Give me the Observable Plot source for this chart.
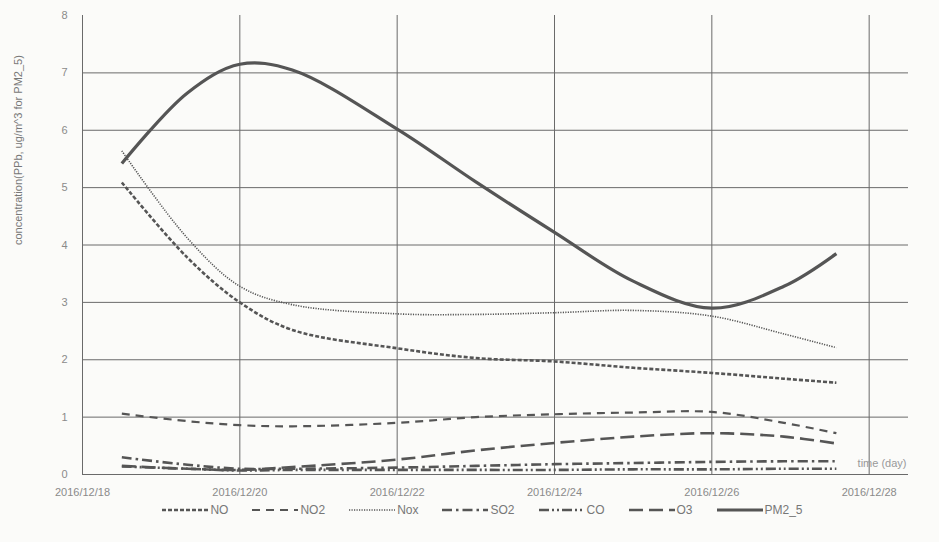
<!DOCTYPE html>
<html>
<head>
<meta charset="utf-8">
<script src="https://cdn.jsdelivr.net/npm/d3@7"></script>
<script src="https://cdn.jsdelivr.net/npm/@observablehq/plot@0.6"></script>
<style>
  html, body { margin: 0; padding: 0; background: #fbfbf9; }
  #chart { width: 939px; }
  #legend { display: flex; justify-content: center; align-items: center; gap: 24px; margin-top: 3px; padding-left: 26px;
    font: 12px "Liberation Sans Narrow", "Liberation Sans", sans-serif; color: #777; }
  #legend .item { display: flex; align-items: center; gap: 2px; }
</style>
</head>
<body>
<div id="chart"></div>
<div id="legend"></div>
<script>
// ---- data ----
const times = ["2016-12-18T12:00","2016-12-19T08:00","2016-12-20T00:00","2016-12-20T16:00","2016-12-22T00:00","2016-12-23T00:00","2016-12-24T00:00","2016-12-25T00:00","2016-12-26T00:00","2016-12-26T22:00","2016-12-27T14:00"];
const NO    = [5.09, 3.78, 3.00, 2.52, 2.20, 2.03, 1.97, 1.86, 1.77, 1.67, 1.60];
const NO2   = [1.06, 0.93, 0.86, 0.84, 0.90, 1.00, 1.05, 1.08, 1.09, 0.90, 0.72];
const Nox   = [5.64, 4.12, 3.28, 2.96, 2.80, 2.79, 2.82, 2.86, 2.76, 2.45, 2.21];
const SO2   = [0.30, 0.17, 0.10, 0.10, 0.12, 0.15, 0.18, 0.20, 0.22, 0.23, 0.23];
const CO    = [0.14, 0.10, 0.07, 0.08, 0.08, 0.08, 0.08, 0.09, 0.09, 0.10, 0.10];
const O3    = [0.15, 0.10, 0.08, 0.13, 0.26, 0.42, 0.55, 0.66, 0.72, 0.66, 0.54];
const PM2_5 = [5.42, 6.65, 7.15, 7.05, 6.02, 5.10, 4.22, 3.37, 2.90, 3.28, 3.85];
const seriesNames = ["NO", "NO2", "Nox", "SO2", "CO", "O3", "PM2_5"];
const seriesValues = [NO, NO2, Nox, SO2, CO, O3, PM2_5];
const xTickDates = ["2016-12-18","2016-12-20","2016-12-22","2016-12-24","2016-12-26","2016-12-28"];
const yTicks = [0, 1, 2, 3, 4, 5, 6, 7, 8];
const yLabel = "concentration(PPb, ug/m^3 for PM2_5)";
const xLabel = "time (day)";

// ---- styles ----
const styles = {
  NO:    {dash: "4,2",            width: 2.6},
  NO2:   {dash: "8,6",            width: 2.2},
  Nox:   {dash: "1.2,1.3",        width: 1.6},
  SO2:   {dash: "10,4,2.5,4",     width: 2.6},
  CO:    {dash: "10,3,2,3,2,3",   width: 2.6},
  O3:    {dash: "14,6",           width: 2.6},
  PM2_5: {dash: null,             width: 3.2}
};
const lineColor = "#555";

const parseT = d3.utcParse("%Y-%m-%dT%H:%M");
const parseD = d3.utcParse("%Y-%m-%d");
const tickDates = xTickDates.map(parseD);

const marks = [
  Plot.ruleY(yTicks.filter(v => v > 0 && v < 8), {stroke: "#6a6a6a", strokeWidth: 1}),
  Plot.ruleX(tickDates.slice(1), {stroke: "#6a6a6a", strokeWidth: 1}),
  Plot.ruleX([tickDates[0]], {stroke: "#6a6a6a", strokeWidth: 1}),
  Plot.ruleY([0], {stroke: "#6a6a6a", strokeWidth: 1.2}),
  Plot.axisX({ticks: tickDates, tickFormat: d3.utcFormat("%Y/%m/%d"), tickSize: 0, tickPadding: 14, label: null,
    fill: "#8a8a8a", fontSize: 11}),
  Plot.axisY({ticks: yTicks, tickSize: 0, tickPadding: 15, label: null, fill: "#8a8a8a", fontSize: 11}),
  Plot.text([yLabel], {frameAnchor: "left", rotate: -90, dx: -64, fill: "#777", fontSize: 11}),
  Plot.text([xLabel], {frameAnchor: "bottom-right", textAnchor: "end", dx: -2, dy: -8, fill: "#999", fontSize: 11})
];

seriesNames.forEach((name, i) => {
  const data = times.map((t, j) => ({t: parseT(t), v: seriesValues[i][j]}));
  const s = styles[name];
  marks.push(Plot.line(data, {x: "t", y: "v", curve: "catmull-rom", stroke: lineColor,
    strokeWidth: s.width, strokeDasharray: s.dash || undefined, strokeLinecap: "butt"}));
});

const chart = Plot.plot({
  width: 939,
  height: 500,
  marginLeft: 82,
  marginRight: 31,
  marginTop: 15,
  marginBottom: 26,
  style: {background: "transparent", fontFamily: "'Liberation Sans Narrow', 'Liberation Sans', sans-serif"},
  x: {type: "utc", domain: [parseD("2016-12-18"), parseT("2016-12-28T12:00")]},
  y: {domain: [0, 8]},
  marks
});
document.getElementById("chart").appendChild(chart);

// ---- legend ----
const legend = d3.select("#legend");
seriesNames.forEach(name => {
  const s = styles[name];
  const item = legend.append("div").attr("class", "item");
  const svg = item.append("svg").attr("width", 46).attr("height", 10);
  svg.append("line").attr("x1", 0).attr("x2", 46).attr("y1", 5).attr("y2", 5)
    .attr("stroke", lineColor).attr("stroke-width", s.width)
    .attr("stroke-dasharray", s.dash);
  item.append("span").text(name);
});
</script>
</body>
</html>
